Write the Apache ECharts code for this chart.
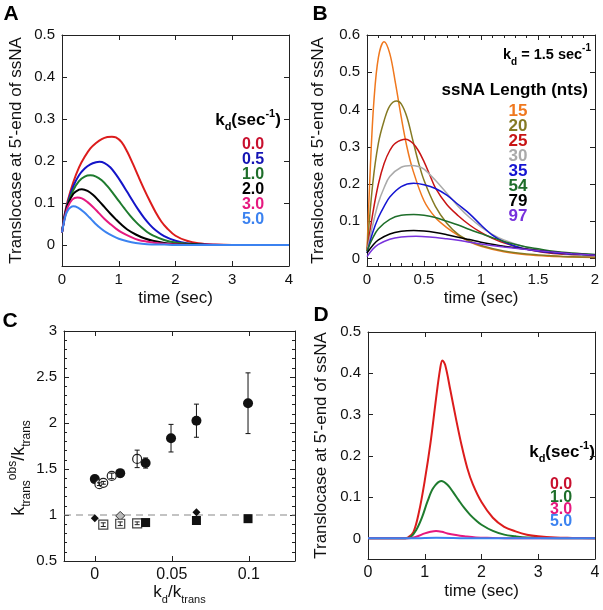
<!DOCTYPE html>
<html><head><meta charset="utf-8">
<script src="https://cdn.jsdelivr.net/npm/echarts@6/dist/echarts.min.js"></script>
<style>html,body{margin:0;padding:0;background:#fff}#c{width:603px;height:610px}</style>
</head><body><div id="c"></div>
<script>
// ---------------- DATA ----------------
// Panel A: translocase at 5'-end vs time for various kd (sec^-1)
const A_labels = ['0.0','0.5','1.0','2.0','3.0','5.0'];
const A_kd00 = [[0,0.03],[0.05,0.075],[0.1,0.105],[0.2,0.15],[0.3,0.185],[0.4,0.21],[0.5,0.23],[0.6,0.243],[0.7,0.252],[0.8,0.257],[0.88,0.258],[0.95,0.256],[1.05,0.245],[1.15,0.222],[1.25,0.193],[1.35,0.162],[1.45,0.132],[1.55,0.104],[1.65,0.078],[1.75,0.056],[1.85,0.04],[2.0,0.022],[2.2,0.01],[2.4,0.004],[2.7,0.001],[3,0],[3.5,0],[4,0]];
const A_kd05 = [[0,0.03],[0.05,0.072],[0.1,0.1],[0.2,0.14],[0.3,0.166],[0.4,0.182],[0.5,0.192],[0.6,0.197],[0.66,0.198],[0.75,0.195],[0.85,0.185],[0.95,0.168],[1.05,0.148],[1.15,0.126],[1.25,0.104],[1.35,0.083],[1.45,0.064],[1.55,0.048],[1.65,0.035],[1.8,0.021],[2.0,0.01],[2.2,0.004],[2.5,0.001],[3,0],[4,0]];
const A_kd10 = [[0,0.03],[0.05,0.07],[0.1,0.097],[0.2,0.131],[0.3,0.152],[0.4,0.163],[0.5,0.166],[0.6,0.163],[0.7,0.154],[0.8,0.14],[0.9,0.123],[1.0,0.105],[1.1,0.087],[1.2,0.07],[1.3,0.055],[1.4,0.042],[1.5,0.031],[1.6,0.023],[1.8,0.012],[2.0,0.006],[2.3,0.002],[2.6,0],[4,0]];
const A_kd20 = [[0,0.03],[0.05,0.068],[0.1,0.095],[0.2,0.122],[0.3,0.132],[0.35,0.133],[0.45,0.129],[0.55,0.119],[0.65,0.105],[0.75,0.09],[0.85,0.075],[0.95,0.061],[1.05,0.048],[1.15,0.037],[1.3,0.025],[1.45,0.016],[1.6,0.01],[1.8,0.005],[2.0,0.002],[2.3,0.001],[2.6,0],[4,0]];
const A_kd30 = [[0,0.03],[0.05,0.066],[0.1,0.09],[0.18,0.108],[0.27,0.113],[0.35,0.111],[0.45,0.102],[0.55,0.09],[0.65,0.076],[0.75,0.062],[0.85,0.05],[0.95,0.039],[1.05,0.03],[1.2,0.02],[1.35,0.012],[1.5,0.008],[1.7,0.004],[2.0,0.001],[2.3,0],[4,0]];
const A_kd50 = [[0,0.03],[0.05,0.063],[0.1,0.082],[0.2,0.092],[0.28,0.089],[0.38,0.079],[0.48,0.066],[0.58,0.052],[0.68,0.04],[0.78,0.03],[0.9,0.021],[1.0,0.015],[1.15,0.009],[1.3,0.005],[1.5,0.002],[1.8,0.001],[2.0,0],[4,0]];

// Panel B: kd = 1.5 sec^-1, various ssNA lengths (nts)
const B_labels = ['15','20','25','30','35','54','79','97'];
const B_n15 = [[0,0.02],[0.03,0.25],[0.06,0.42],[0.1,0.54],[0.15,0.582],[0.2,0.55],[0.25,0.47],[0.3,0.38],[0.35,0.3],[0.4,0.24],[0.5,0.155],[0.6,0.11],[0.7,0.083],[0.8,0.062],[0.9,0.045],[1.0,0.033],[1.2,0.018],[1.4,0.01],[1.6,0.006],[1.8,0.004],[2.0,0.003]];
const B_n20 = [[0,0.02],[0.05,0.2],[0.1,0.31],[0.15,0.37],[0.2,0.41],[0.26,0.423],[0.3,0.415],[0.35,0.38],[0.4,0.32],[0.45,0.26],[0.5,0.21],[0.6,0.14],[0.7,0.095],[0.8,0.065],[0.9,0.047],[1.0,0.035],[1.2,0.02],[1.4,0.012],[1.6,0.008],[1.8,0.005],[2.0,0.004]];
const B_n25 = [[0,0.02],[0.05,0.12],[0.1,0.2],[0.15,0.255],[0.2,0.29],[0.25,0.31],[0.34,0.32],[0.4,0.31],[0.45,0.29],[0.5,0.26],[0.55,0.225],[0.6,0.19],[0.7,0.145],[0.8,0.115],[0.9,0.09],[1.0,0.07],[1.1,0.054],[1.2,0.042],[1.4,0.025],[1.6,0.015],[1.8,0.01],[2.0,0.007]];
const B_n30 = [[0,0.02],[0.05,0.09],[0.1,0.15],[0.15,0.19],[0.2,0.22],[0.3,0.245],[0.39,0.25],[0.45,0.247],[0.5,0.24],[0.6,0.21],[0.7,0.175],[0.8,0.14],[0.9,0.11],[1.0,0.085],[1.1,0.065],[1.2,0.05],[1.4,0.03],[1.6,0.018],[1.8,0.011],[2.0,0.007]];
const B_n35 = [[0,0.015],[0.05,0.07],[0.1,0.11],[0.15,0.14],[0.2,0.165],[0.3,0.193],[0.41,0.202],[0.5,0.198],[0.6,0.188],[0.7,0.17],[0.8,0.145],[0.9,0.12],[1.0,0.09],[1.1,0.063],[1.2,0.045],[1.3,0.033],[1.4,0.025],[1.6,0.016],[1.8,0.012],[2.0,0.01]];
const B_n54 = [[0,0.02],[0.05,0.055],[0.1,0.08],[0.2,0.105],[0.3,0.116],[0.41,0.118],[0.5,0.116],[0.6,0.11],[0.7,0.1],[0.8,0.09],[0.9,0.078],[1.0,0.067],[1.1,0.056],[1.2,0.046],[1.3,0.038],[1.4,0.031],[1.5,0.026],[1.6,0.021],[1.8,0.015],[2.0,0.011]];
const B_n79 = [[0,0.015],[0.05,0.035],[0.1,0.05],[0.2,0.066],[0.3,0.073],[0.41,0.075],[0.5,0.074],[0.6,0.07],[0.7,0.064],[0.8,0.057],[0.9,0.051],[1.0,0.044],[1.2,0.033],[1.4,0.025],[1.6,0.018],[1.8,0.013],[2.0,0.009]];
const B_n97 = [[0,0.005],[0.05,0.025],[0.1,0.038],[0.2,0.052],[0.3,0.058],[0.43,0.06],[0.55,0.058],[0.7,0.053],[0.8,0.049],[0.9,0.044],[1.0,0.039],[1.2,0.031],[1.4,0.024],[1.6,0.018],[1.8,0.013],[2.0,0.009]];

// Panel C: k_trans^obs/k_trans vs kd/k_trans  [x, y, error]
const C_filledCircles = [[0,1.39,0.02],[0.0165,1.455,0.04],[0.033,1.565,0.055],[0.0495,1.835,0.15],[0.066,2.025,0.18],[0.0995,2.215,0.33]];
const C_openCircles = [[0.003,1.335,0.015],[0.0055,1.35,0.015],[0.011,1.425,0.03],[0.0275,1.61,0.095]];
const C_filledDiamonds = [[0,0.965],[0.066,1.03]];
const C_openDiamonds = [[0.0165,0.99]];
const C_openSquares = [[0.0055,0.895,0.02],[0.0165,0.905,0.02],[0.0275,0.91,0.015]];
const C_filledSquares = [[0.033,0.918],[0.066,0.94],[0.0995,0.96]];
const C_reference = 1;

// Panel D
const D_labels = ['0.0','1.0','3.0','5.0'];
const D_kd00 = [[0,0],[0.6,0],[0.7,0.002],[0.8,0.015],[0.9,0.065],[1.0,0.14],[1.1,0.23],[1.2,0.34],[1.27,0.41],[1.31,0.431],[1.36,0.42],[1.45,0.36],[1.55,0.29],[1.65,0.225],[1.75,0.17],[1.85,0.13],[2.0,0.088],[2.2,0.05],[2.4,0.028],[2.6,0.017],[2.8,0.009],[3.0,0.005],[3.3,0.002],[3.6,0.001],[4,0]];
const D_kd10 = [[0,0],[0.65,0],[0.75,0.003],[0.85,0.02],[0.95,0.05],[1.05,0.09],[1.15,0.122],[1.29,0.139],[1.4,0.13],[1.5,0.112],[1.6,0.092],[1.7,0.073],[1.8,0.057],[1.9,0.044],[2.0,0.033],[2.2,0.018],[2.4,0.009],[2.6,0.005],[2.8,0.002],[3.0,0.001],[4,0]];
const D_kd30 = [[0,0],[0.7,0],[0.85,0.004],[1.0,0.012],[1.1,0.016],[1.2,0.018],[1.3,0.016],[1.4,0.012],[1.55,0.008],[1.7,0.005],[1.9,0.002],[2.2,0.001],[2.5,0],[4,0]];
const D_kd50 = [[0,0],[0.8,0],[1.0,0.001],[1.2,0.0015],[1.5,0.001],[1.8,0],[4,0]];

const A_yTicks = [0,0.1,0.2,0.3,0.4,0.5];
const B_yTicks = [0,0.1,0.2,0.3,0.4,0.5,0.6];
const C_xTicks = [0,0.05,0.1];
const D_yTicks = [0,0.1,0.2,0.3,0.4,0.5];

// ---------------- STYLE ----------------
const F = "'Liberation Sans', Arial, Helvetica, sans-serif";
const colA = ['#dc1c1c','#1414c8','#1e7b2e','#000000','#e6197f','#3b82f0'];
const colAtxt = ['#c8102e','#1414b4','#1e6e2a','#000000','#e6197f','#3b82f0'];
const colB = ['#f0781e','#857a23','#c81414','#aaaaaa','#1414d2','#1e6e2a','#000000','#7832dc'];
const colD = ['#dc1c1c','#1e7b2e','#e6197f','#3b82f0'];
const colDtxt = ['#c8102e','#1e6e2a','#e6197f','#3b82f0'];

const grids = [
  {left:62, top:35, width:227, height:231},
  {left:367, top:35, width:228, height:231},
  {left:64, top:331, width:231, height:230},
  {left:368, top:332, width:227, height:227}
];

function axis(kind, gi, pos, cfg, main){
  const ax = {type:'value', gridIndex:gi, position:pos, min:cfg.min, max:cfg.max,
    axisLine:{show:true, onZero:false, lineStyle:{color:'#222', width:1}},
    axisTick:{show:true, inside:true, length:5, lineStyle:{color:'#222', width:1}},
    axisLabel:{show:main, color:'#111', fontSize:cfg.fs||15, fontFamily:F, margin:cfg.margin||6},
    splitLine:{show:false}};
  if (cfg.interval) ax.interval = cfg.interval;
  if (cfg.ticks){ ax.axisTick.customValues = cfg.ticks; ax.axisLabel.customValues = cfg.ticks; }
  if (cfg.minor) ax.minorTick = {show:true, splitNumber:cfg.minor, length:3, lineStyle:{color:'#222', width:1}};
  if (main && cfg.name){
    ax.name = cfg.name; ax.nameLocation = 'middle'; ax.nameGap = cfg.nameGap;
    if (kind==='y') ax.nameRotate = 90;
    ax.nameTextStyle = {fontSize:17, fontFamily:F, color:'#111'};
    if (cfg.rich) ax.nameTextStyle.rich = cfg.rich;
    if (cfg.namePad) ax.nameTextStyle.padding = cfg.namePad;
  }
  return ax;
}

const TL = "Translocase at 5'-end of ssNA";
const richK = (big, small) => ({
  k:{fontSize:big, fontFamily:F, color:'#111', lineHeight:26, verticalAlign:'middle'},
  s:{fontSize:small, fontFamily:F, color:'#111', lineHeight:12, verticalAlign:'bottom'},
  p:{fontSize:small, fontFamily:F, color:'#111', lineHeight:12, verticalAlign:'top'}
});

const xCfg = [
  {min:0, max:4, interval:1, name:'time (sec)', nameGap:24},
  {min:0, max:2, interval:0.5, minor:5, name:'time (sec)', nameGap:24},
  {min:-0.02, max:0.13, ticks:C_xTicks, fs:16, name:'{k|k}{s|d}{k|/k}{s|trans}', nameGap:16, rich:richK(17,11)},
  {min:0, max:4, interval:1, fs:16, name:'time (sec)', nameGap:24}
];
const yCfg = [
  {min:-0.05, max:0.5, ticks:A_yTicks, name:TL, nameGap:37, margin:7},
  {min:-0.02, max:0.6, ticks:B_yTicks, name:TL, nameGap:40, margin:7},
  {min:0.5, max:3, interval:0.5, minor:5, name:'{k|k}{s|trans}{p|obs}{k|/k}{s|trans}', nameGap:30, margin:7, rich:richK(18,12), namePad:[0,44,0,0]},
  {min:-0.05, max:0.5, ticks:D_yTicks, name:TL, nameGap:38, margin:7}
];

const xAxes = [], yAxes = [];
for (let i=0;i<4;i++){
  xAxes.push(axis('x', i, 'bottom', xCfg[i], true));
  xAxes.push(axis('x', i, 'top', xCfg[i], false));
  yAxes.push(axis('y', i, 'left', yCfg[i], true));
  yAxes.push(axis('y', i, 'right', yCfg[i], false));
}

const series = [];
function curve(p, data, color, w){
  series.push({type:'line', xAxisIndex:2*p, yAxisIndex:2*p, data:data, showSymbol:false, symbol:'none',
    smooth:0.35, lineStyle:{color:color, width:w}, itemStyle:{color:color}, z:3});
}
[A_kd00,A_kd05,A_kd10,A_kd20,A_kd30,A_kd50].forEach((d,i)=>curve(0,d,colA[i],2));
[B_n15,B_n20,B_n25,B_n30,B_n35,B_n54,B_n79,B_n97].forEach((d,i)=>curve(1,d,colB[i],1.5));
[D_kd00,D_kd10,D_kd30,D_kd50].forEach((d,i)=>curve(3,d,colD[i],2));

// Panel C
series.push({type:'line', xAxisIndex:4, yAxisIndex:4, data:[[-0.02,C_reference],[0.13,C_reference]],
  showSymbol:false, symbol:'none', lineStyle:{color:'#888', width:1.2, type:[7,5]}, z:1});
function errBars(data, color){
  series.push({type:'custom', xAxisIndex:4, yAxisIndex:4, data:data, encode:{x:0,y:1}, z:4,
    renderItem:function(params, api){
      const x=api.value(0), y=api.value(1), e=api.value(2);
      const t=api.coord([x,y+e]), b=api.coord([x,y-e]); const c=2.5;
      const st={stroke:color, lineWidth:1};
      return {type:'group', children:[
        {type:'line', shape:{x1:t[0],y1:t[1],x2:b[0],y2:b[1]}, style:st},
        {type:'line', shape:{x1:t[0]-c,y1:t[1],x2:t[0]+c,y2:t[1]}, style:st},
        {type:'line', shape:{x1:b[0]-c,y1:b[1],x2:b[0]+c,y2:b[1]}, style:st}
      ]};
    }});
}
function pts(data, symbol, size, fill, border, bw, z){
  series.push({type:'scatter', xAxisIndex:4, yAxisIndex:4, data:data.map(d=>[d[0],d[1]]), symbol:symbol,
    symbolSize:size, itemStyle:{color:fill, borderColor:border, borderWidth:bw, opacity:1}, z:z||3});
}
errBars(C_filledCircles,'#111');
errBars(C_openCircles,'#111');
pts(C_filledCircles,'circle',10,'#111','#111',0);
pts(C_openCircles,'circle',9,'#fff','#222',1.2);
pts(C_filledDiamonds,'diamond',8,'#111','#111',0);
pts(C_openDiamonds,'diamond',9,'#bbb','#333',1);
pts(C_openSquares,'rect',9,'#fff','#444',1.2, 3);
errBars(C_openSquares,'#222');
pts(C_filledSquares,'rect',9,'#111','#111',0);

// ---------------- ANNOTATIONS ----------------
function txt(x,y,text,color,size,align){
  return {type:'text', x:x, y:y, silent:true,
    style:{text:text, fill:color, font:'bold '+size+'px '+F, align:align||'center', verticalAlign:'middle'}};
}
const kdRich = (big, small) => ({
  k:{fontSize:big, fontWeight:'bold', fontFamily:F, fill:'#000', lineHeight:24, verticalAlign:'middle'},
  s:{fontSize:small, fontWeight:'bold', fontFamily:F, fill:'#000', lineHeight:11, verticalAlign:'bottom'},
  p:{fontSize:small, fontWeight:'bold', fontFamily:F, fill:'#000', lineHeight:11, verticalAlign:'top'}
});
const graphic = [
  txt(11,14,'A','#000',21), txt(320,14,'B','#000',21), txt(10,321,'C','#000',21), txt(321,315,'D','#000',21),
  {type:'text', x:248, y:120, silent:true, style:{text:'{k|k}{s|d}{k|(sec}{p|-1}{k|)}', rich:kdRich(17,11), align:'center', verticalAlign:'middle'}},
  {type:'text', x:591, y:55, silent:true, style:{text:'{k|k}{s|d}{k| = 1.5 sec}{p|-1}', rich:kdRich(14.5,10), align:'right', verticalAlign:'middle'}},
  txt(588,90,'ssNA Length (nts)','#000',17,'right'),
  {type:'text', x:562, y:452, silent:true, style:{text:'{k|k}{s|d}{k|(sec}{p|-1}{k|)}', rich:kdRich(17,11), align:'center', verticalAlign:'middle'}}
];
A_labels.forEach((l,i)=>graphic.push(txt(253,145+14.85*i,l,colAtxt[i],16)));
B_labels.forEach((l,i)=>graphic.push(txt(518,111.5+15*i,l,colB[i],17)));
D_labels.forEach((l,i)=>graphic.push(txt(561,485+12.2*i,l,colDtxt[i],16)));

const chart = echarts.init(document.getElementById('c'), null, {renderer:'canvas'});
chart.setOption({animation:false, backgroundColor:'#fff', grid:grids, xAxis:xAxes, yAxis:yAxes, series:series, graphic:graphic});
</script></body></html>
